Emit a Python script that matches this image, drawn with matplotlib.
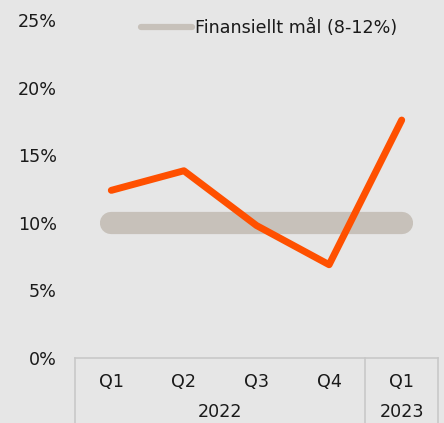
import matplotlib.pyplot as plt
from matplotlib.lines import Line2D

plt.rcParams['font.family'] = ['DejaVu Sans']

quarters = ['Q1', 'Q2', 'Q3', 'Q4', 'Q1']
years = ['2022', '2023']
year_spans = [(0, 3), (4, 4)]
returns = [12.4, 13.85, 9.8, 6.9, 17.6]
target = [10, 10, 10, 10, 10]
yticks = [0, 5, 10, 15, 20, 25]

bg = '#e6e6e6'
orange = '#ff5000'
band = '#c7c1ba'
grid_col = '#c8c8c8'
txt = '#1a1a1a'
fs = 12.6

fig = plt.figure(figsize=(4.44, 4.23), dpi=100, facecolor=bg)
ax = fig.add_axes([75 / 444, 65 / 423, 363 / 444, 338 / 423], facecolor=bg)

x = list(range(len(quarters)))
ax.plot(x, target, color=band, lw=16, solid_capstyle='round', zorder=2)
ax.plot(x, returns, color=orange, lw=5, solid_capstyle='round',
        solid_joinstyle='round', zorder=3)

ax.set_xlim(-0.5, len(quarters) - 0.5)
ax.set_ylim(0, 25)
ax.set_yticks(yticks)
ax.set_yticklabels([f'{v}%' for v in yticks], fontsize=fs, color=txt)
ax.set_xticks(x)
ax.set_xticklabels(quarters, fontsize=fs, color=txt)
ax.tick_params(axis='y', length=0, pad=13)
ax.tick_params(axis='x', length=0, pad=11)
for s in ax.spines.values():
    s.set_visible(False)

# two-level category box under the plot
tr = ax.get_xaxis_transform()
ax.plot([-0.5, 4.5], [0, 0], color=grid_col, lw=1.2, transform=tr, clip_on=False)
for xv in [-0.5, 3.5, 4.5]:
    ax.plot([xv, xv], [0, -0.3], color=grid_col, lw=1.2, transform=tr, clip_on=False)
for yr, (a, b) in zip(years, year_spans):
    ax.text((a + b) / 2, -54 / 338, yr, transform=tr, ha='center', va='center',
            fontsize=fs, color=txt)

handle = Line2D([], [], color=band, lw=4.5, solid_capstyle='round')
ax.legend([handle], ['Finansiellt mål (8-12%)'], loc='upper left',
          bbox_to_anchor=(141 / 444, 1 - 19 / 423), bbox_transform=fig.transFigure,
          frameon=False, fontsize=fs, borderpad=0, borderaxespad=0,
          handlelength=2.9, handletextpad=0.2, labelcolor=txt)

fig.savefig('out.png', dpi=100, facecolor=bg)
